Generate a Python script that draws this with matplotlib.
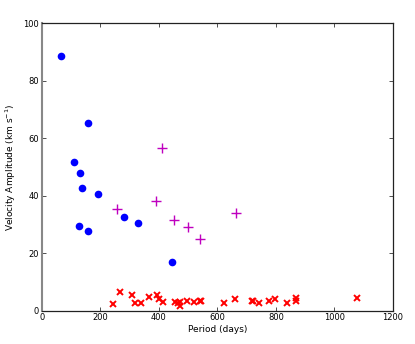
import matplotlib
matplotlib.use("Agg")
import matplotlib.pyplot as plt

# Blue circles
blue_period = [65, 156, 109, 130, 138, 190, 281, 328, 128, 157, 443]
blue_amp = [88.6, 65.4, 51.8, 47.9, 42.8, 40.7, 32.5, 30.5, 29.4, 27.8, 16.9]

# Magenta plus
mag_period = [411, 390, 257, 452, 501, 541, 662]
mag_amp = [56.5, 38.3, 35.3, 31.6, 29.1, 25.1, 33.9]

# Red crosses
red_period = [242, 267, 309, 319, 338, 367, 392, 401, 415, 455, 464, 473, 472,
              497, 519, 540, 545, 622, 660, 717, 721, 743, 776, 798, 836, 867,
              867, 1078]
red_amp = [2.3, 6.5, 5.5, 2.7, 2.7, 4.7, 5.4, 4.2, 3.1, 3.1, 2.8, 3.1, 1.7,
           3.5, 2.9, 3.4, 3.5, 2.8, 4.1, 3.5, 3.3, 2.8, 3.5, 4.2, 2.6, 3.5,
           4.3, 4.3]

xticks = [0, 200, 400, 600, 800, 1000, 1200]
yticks = [0, 20, 40, 60, 80, 100]

fig = plt.figure(figsize=(4.15, 3.44), dpi=100)
ax = fig.add_axes([0.101, 0.097, 0.846, 0.835])

ax.plot(blue_period, blue_amp, 'o', color='blue', markersize=5.5, markeredgewidth=0)
ax.plot(mag_period, mag_amp, '+', color='m', markersize=6.5, markeredgewidth=1.0)
ax.plot(red_period, red_amp, 'x', color='red', markersize=4.5, markeredgewidth=1.4)

ax.set_xlim(0, 1200)
ax.set_ylim(0, 100)
ax.set_xticks(xticks)
ax.set_yticks(yticks)
ax.tick_params(direction='in', length=3, width=0.6, labelsize=6,
               top=True, right=True, pad=2, colors='#333333', labelcolor='black')
for name, sp in ax.spines.items():
    sp.set_linewidth(0.9)
    sp.set_color('#222222')
ax.spines['left'].set_color('#888888')
ax.spines['left'].set_linewidth(1.5)

ax.set_xlabel('Period (days)', fontsize=6.5, labelpad=2)
ax.set_ylabel('Velocity Amplitude (km s$^{-1}$)', fontsize=6.5, labelpad=4)

fig.savefig('out.png', dpi=100)
